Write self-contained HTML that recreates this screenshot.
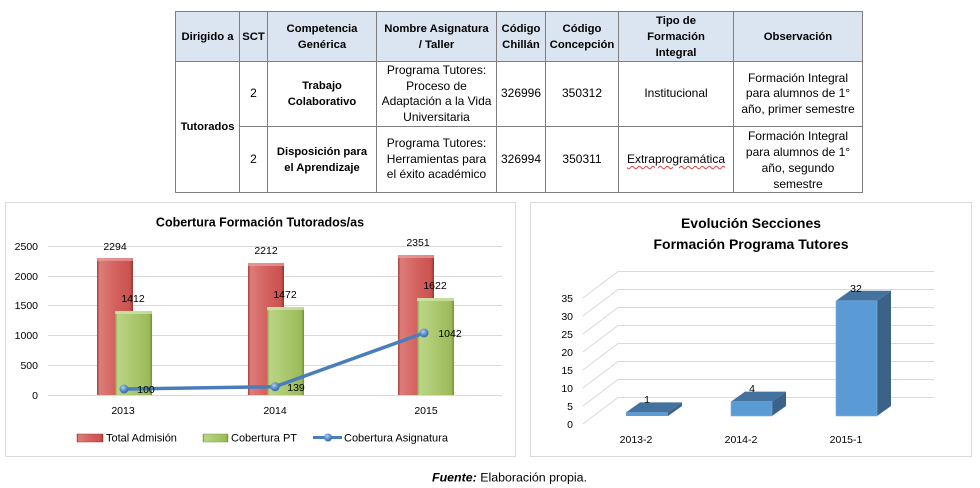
<!DOCTYPE html>
<html><head><meta charset="utf-8">
<style>
html,body{margin:0;padding:0;background:#fff;}
body{width:980px;height:488px;position:relative;overflow:hidden;font-family:"Liberation Sans",Arial,sans-serif;color:#000;}
.c{position:absolute;display:flex;align-items:center;justify-content:center;text-align:center;font-size:12px;line-height:15.5px;}
.h{font-weight:bold;font-size:11.3px;line-height:16px;}
.b{font-weight:bold;font-size:11.2px;line-height:16px;}
svg{position:absolute;left:0;top:0;}
.wavy{text-decoration:underline wavy #e04040;text-decoration-thickness:1px;text-underline-offset:2px;}
</style></head><body>
<svg width="980" height="488" viewBox="0 0 980 488">
<defs>
<linearGradient id="gr" x1="0" y1="0" x2="1" y2="0">
<stop offset="0" stop-color="#a83c39"/><stop offset="0.07" stop-color="#dc7d7a"/><stop offset="0.5" stop-color="#d4625f"/><stop offset="0.92" stop-color="#c9524f"/><stop offset="1" stop-color="#943532"/>
</linearGradient>
<linearGradient id="gg" x1="0" y1="0" x2="1" y2="0">
<stop offset="0" stop-color="#7f9c45"/><stop offset="0.07" stop-color="#bad585"/><stop offset="0.5" stop-color="#abc86f"/><stop offset="0.92" stop-color="#9bbb59"/><stop offset="1" stop-color="#758f3c"/>
</linearGradient>
<radialGradient id="gm" cx="0.4" cy="0.35" r="0.7">
<stop offset="0" stop-color="#b4d0f0"/><stop offset="0.5" stop-color="#5f8fcb"/><stop offset="1" stop-color="#325f98"/>
</radialGradient>
</defs>
<!-- table -->
<rect x="175" y="11" width="687" height="50" fill="#dbe5f1"/>
<g stroke="#7f7f7f" stroke-width="1" fill="none">
<line x1="175" y1="11.5" x2="863" y2="11.5"/>
<line x1="175" y1="61.5" x2="863" y2="61.5"/>
<line x1="239" y1="126.5" x2="863" y2="126.5"/>
<line x1="175" y1="192.5" x2="863" y2="192.5"/>
<line x1="175.5" y1="11" x2="175.5" y2="193"/>
<line x1="239.5" y1="11" x2="239.5" y2="193"/>
<line x1="267.5" y1="11" x2="267.5" y2="193"/>
<line x1="376.5" y1="11" x2="376.5" y2="193"/>
<line x1="496.5" y1="11" x2="496.5" y2="193"/>
<line x1="545.5" y1="11" x2="545.5" y2="193"/>
<line x1="618.5" y1="11" x2="618.5" y2="193"/>
<line x1="733.5" y1="11" x2="733.5" y2="193"/>
<line x1="862.5" y1="11" x2="862.5" y2="193"/>
</g>

<!-- left chart -->
<rect x="5.5" y="202.5" width="510" height="254" fill="#fff" stroke="#d9d9d9"/>
<text x="260" y="226.5" text-anchor="middle" font-family="Liberation Sans, Arial, sans-serif" font-weight="bold" font-size="12.5">Cobertura Formación Tutorados/as</text>
<g stroke="#d9d9d9" stroke-width="1">
<line x1="48" y1="246.5" x2="502" y2="246.5"/>
<line x1="48" y1="276.5" x2="502" y2="276.5"/>
<line x1="48" y1="305.5" x2="502" y2="305.5"/>
<line x1="48" y1="335.5" x2="502" y2="335.5"/>
<line x1="48" y1="365.5" x2="502" y2="365.5"/>
<line x1="48" y1="395.5" x2="502" y2="395.5"/>
</g>
<g font-family="Liberation Sans, Arial, sans-serif" font-size="10.5" text-anchor="end">
<text x="38" y="250">2500</text><text x="38" y="280">2000</text><text x="38" y="309">1500</text>
<text x="38" y="339">1000</text><text x="38" y="369">500</text><text x="38" y="399">0</text>
</g>
<!-- bars -->
<rect x="97" y="258" width="36" height="137" fill="url(#gr)"/>
<rect x="248" y="263" width="36" height="132" fill="url(#gr)"/>
<rect x="398" y="255" width="36" height="140" fill="url(#gr)"/>
<rect x="97" y="258" width="36" height="3" fill="#e9a3a1" opacity="0.7"/>
<rect x="248" y="263" width="36" height="3" fill="#e9a3a1" opacity="0.7"/>
<rect x="398" y="255" width="36" height="3" fill="#e9a3a1" opacity="0.7"/>
<rect x="115" y="311" width="37" height="84" fill="url(#gg)"/>
<rect x="267" y="307" width="37" height="88" fill="url(#gg)"/>
<rect x="417" y="298" width="37" height="97" fill="url(#gg)"/>
<rect x="115" y="311" width="37" height="3" fill="#d0e3a8" opacity="0.8"/>
<rect x="267" y="307" width="37" height="3" fill="#d0e3a8" opacity="0.8"/>
<rect x="417" y="298" width="37" height="3" fill="#d0e3a8" opacity="0.8"/>
<!-- line -->
<polyline points="124,389 275,386.7 424,333" fill="none" stroke="#4a7ebb" stroke-width="3.5" stroke-linejoin="round"/>
<circle cx="124" cy="389" r="4.5" fill="url(#gm)"/>
<circle cx="275" cy="386.7" r="4.5" fill="url(#gm)"/>
<circle cx="424" cy="333" r="4.5" fill="url(#gm)"/>
<g font-family="Liberation Sans, Arial, sans-serif" font-size="10.5" text-anchor="middle">
<text x="115" y="250">2294</text><text x="266" y="254">2212</text><text x="418" y="246">2351</text>
<text x="133" y="302">1412</text><text x="285" y="298">1472</text><text x="435" y="289">1622</text>
<text x="146" y="393">100</text><text x="296" y="391">139</text><text x="450" y="337">1042</text>
<text x="123" y="414">2013</text><text x="275" y="414">2014</text><text x="426" y="414">2015</text>
</g>
<!-- legend -->
<rect x="77" y="434" width="26" height="8" fill="url(#gr)" stroke="#a83c39" stroke-width="0.5"/>
<rect x="203" y="434" width="25" height="8" fill="url(#gg)" stroke="#7f9c45" stroke-width="0.5"/>
<line x1="313" y1="437.5" x2="342" y2="437.5" stroke="#4a7ebb" stroke-width="3"/>
<circle cx="328" cy="437.5" r="4" fill="url(#gm)"/>
<g font-family="Liberation Sans, Arial, sans-serif" font-size="11">
<text x="106" y="441.5">Total Admisión</text>
<text x="231" y="441.5">Cobertura PT</text>
<text x="344" y="441.5">Cobertura Asignatura</text>
</g>

<!-- right chart -->
<rect x="530.5" y="202.5" width="441" height="254" fill="#fff" stroke="#d9d9d9"/>
<g font-family="Liberation Sans, Arial, sans-serif" font-weight="bold" font-size="14" text-anchor="middle">
<text x="751" y="228">Evolución Secciones</text>
<text x="751" y="249">Formación Programa Tutores</text>
</g>
<g stroke="#d9d9d9" stroke-width="1" fill="none">
<polyline points="583,424 618,397.5 934,397.5"/>
<polyline points="583,406 618,379.5 934,379.5"/>
<polyline points="583,388 618,361.5 934,361.5"/>
<polyline points="583,370 618,343.5 934,343.5"/>
<polyline points="583,352 618,325.5 934,325.5"/>
<polyline points="583,334 618,307.5 934,307.5"/>
<polyline points="583,316 618,289.5 934,289.5"/>
<polyline points="583,298 618,271.5 934,271.5"/>
</g>
<g font-family="Liberation Sans, Arial, sans-serif" font-size="10.5" text-anchor="end">
<text x="573" y="428">0</text><text x="573" y="410">5</text><text x="573" y="392">10</text>
<text x="573" y="374">15</text><text x="573" y="356">20</text><text x="573" y="338">25</text>
<text x="573" y="320">30</text><text x="573" y="302">35</text>
</g>
<!-- 3d bars -->
<g>
<polygon points="626,412.4 668,412.4 682,402.4 640,402.4" fill="#44729f"/>
<polygon points="668,412.4 682,402.4 682,406 668,416" fill="#3b6389"/>
<rect x="626" y="412.4" width="42" height="3.6" fill="#5b9bd5"/>

<polygon points="731,401.6 772,401.6 786,391.6 745,391.6" fill="#44729f"/>
<polygon points="772,401.6 786,391.6 786,406 772,416" fill="#3b6389"/>
<rect x="731" y="401.6" width="41" height="14.4" fill="#5b9bd5" stroke="#7aaee0" stroke-width="0.6"/>

<polygon points="836,300.8 877,300.8 891,290.8 850,290.8" fill="#44729f"/>
<polygon points="877,300.8 891,290.8 891,406 877,416" fill="#3b6389"/>
<rect x="836" y="300.8" width="41" height="115.2" fill="#5b9bd5" stroke="#7aaee0" stroke-width="0.6"/>
</g>
<g font-family="Liberation Sans, Arial, sans-serif" font-size="10.5" text-anchor="middle">
<text x="647" y="403">1</text><text x="752" y="392">4</text><text x="856" y="292">32</text>
<text x="636" y="443">2013-2</text><text x="741" y="443">2014-2</text><text x="846" y="443">2015-1</text>
</g>
<!-- footer -->
<text x="432" y="481.5" font-family="Liberation Sans, Arial, sans-serif" font-size="12.4"><tspan font-weight="bold" font-style="italic">Fuente:</tspan> Elaboración propia.</text>
</svg>

<!-- table text -->
<div class="c h" style="left:176px;top:12px;width:63px;height:49px;">Dirigido a</div>
<div class="c h" style="left:240px;top:12px;width:27px;height:49px;">SCT</div>
<div class="c h" style="left:268px;top:12px;width:108px;height:49px;">Competencia<br>Genérica</div>
<div class="c h" style="left:377px;top:12px;width:119px;height:49px;">Nombre Asignatura<br>/ Taller</div>
<div class="c h" style="left:497px;top:12px;width:48px;height:49px;">Código<br>Chillán</div>
<div class="c h" style="left:546px;top:12px;width:72px;height:49px;">Código<br>Concepción</div>
<div class="c h" style="left:619px;top:12px;width:114px;height:49px;">Tipo de<br>Formación<br>Integral</div>
<div class="c h" style="left:734px;top:12px;width:128px;height:49px;">Observación</div>

<div class="c b" style="left:176px;top:62px;width:63px;height:130px;">Tutorados</div>

<div class="c" style="left:240px;top:62px;width:27px;height:64px;">2</div>
<div class="c b" style="left:268px;top:62px;width:108px;height:64px;">Trabajo<br>Colaborativo</div>
<div class="c" style="left:377px;top:62px;width:119px;height:64px;">Programa Tutores:<br>Proceso de<br>Adaptación a la Vida<br>Universitaria</div>
<div class="c" style="left:497px;top:62px;width:48px;height:64px;">326996</div>
<div class="c" style="left:546px;top:62px;width:72px;height:64px;">350312</div>
<div class="c" style="left:619px;top:62px;width:114px;height:64px;">Institucional</div>
<div class="c" style="left:734px;top:62px;width:128px;height:64px;">Formación Integral<br>para alumnos de 1°<br>año, primer semestre</div>

<div class="c" style="left:240px;top:127px;width:27px;height:65px;">2</div>
<div class="c b" style="left:268px;top:127px;width:108px;height:65px;">Disposición para<br>el Aprendizaje</div>
<div class="c" style="left:377px;top:127px;width:119px;height:65px;">Programa Tutores:<br>Herramientas para<br>el éxito académico</div>
<div class="c" style="left:497px;top:127px;width:48px;height:65px;">326994</div>
<div class="c" style="left:546px;top:127px;width:72px;height:65px;">350311</div>
<div class="c" style="left:619px;top:127px;width:114px;height:65px;"><span class="wavy">Extraprogramática</span></div>
<div class="c" style="left:734px;top:127px;width:128px;height:65px;line-height:16px;">Formación Integral<br>para alumnos de 1°<br>año, segundo<br>semestre</div>
</body></html>
